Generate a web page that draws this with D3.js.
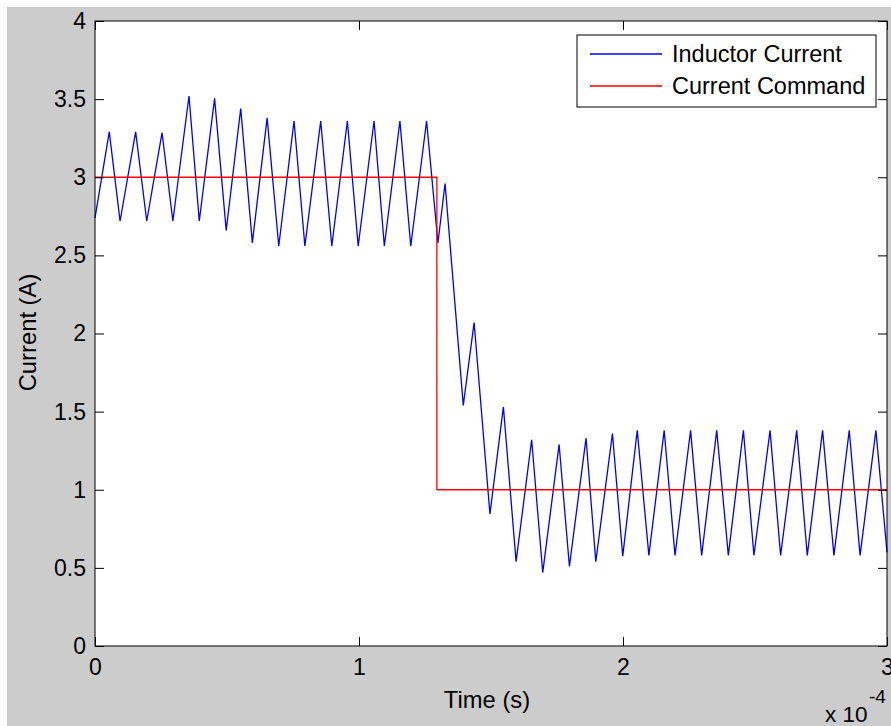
<!DOCTYPE html>
<html>
<head>
<meta charset="utf-8">
<script src="https://cdn.jsdelivr.net/npm/d3@7"></script>
<style>
  html, body { margin: 0; padding: 0; background: #fff; }
  svg { display: block; font-family: "Liberation Sans", Arial, sans-serif; }
</style>
</head>
<body>
<div id="chart"></div>
<script>
// inductor current: peak / valley vertices (time in microseconds, current in A)
var inductorTime = [0, 5.4, 9.5, 15.4, 19.6, 25.4, 29.5, 35.6, 39.5, 45.3, 49.7, 55.2, 59.6, 65.2, 69.6,
  75.4, 79.5, 85.5, 89.7, 95.6, 99.7, 105.7, 109.6, 115.5, 119.6, 125.6, 129.9, 132.6, 139.5, 143.6,
  149.6, 154.7, 159.5, 165.4, 169.6, 175.8, 179.7, 186.0, 189.7, 196.0, 199.9, 205.4, 209.8, 215.6,
  219.7, 225.6, 229.8, 235.5, 239.9, 245.6, 249.6, 255.7, 259.7, 265.8, 269.8, 275.6, 279.9, 285.7,
  289.8, 295.8, 300];
var inductorCurrent = [2.74, 3.29, 2.72, 3.29, 2.72, 3.285, 2.72, 3.52, 2.72, 3.505, 2.66, 3.44, 2.58, 3.38, 2.56,
  3.36, 2.56, 3.36, 2.56, 3.36, 2.56, 3.36, 2.56, 3.36, 2.56, 3.36, 2.58, 2.96, 1.54, 2.07,
  0.845, 1.53, 0.54, 1.32, 0.47, 1.29, 0.51, 1.33, 0.54, 1.36, 0.575, 1.38, 0.58, 1.38,
  0.58, 1.38, 0.58, 1.38, 0.58, 1.38, 0.58, 1.38, 0.58, 1.38, 0.58, 1.38, 0.58, 1.38,
  0.58, 1.38, 0.6];

// current command (step)
var commandTime = [0, 129.5, 129.5, 300];
var commandCurrent = [3, 3, 1, 1];

var xTicks = [0, 100, 200, 300];
var xTickLabels = ["0", "1", "2", "3"];
var yTicks = [0, 0.5, 1, 1.5, 2, 2.5, 3, 3.5, 4];
var yTickLabels = ["0", "0.5", "1", "1.5", "2", "2.5", "3", "3.5", "4"];
var seriesNames = ["Inductor Current", "Current Command"];
var seriesColors = ["#0000ff", "#ff0000"];

var W = 891, H = 726;
var plotL = 95, plotR = 887, plotT = 21, plotB = 646;

var svg = d3.select("#chart").append("svg")
  .attr("width", W).attr("height", H);

svg.append("rect").attr("x", 7).attr("y", 7).attr("width", W - 7).attr("height", H - 7)
  .attr("fill", "#cccccc");
svg.append("rect").attr("x", plotL).attr("y", plotT)
  .attr("width", plotR - plotL).attr("height", plotB - plotT).attr("fill", "#fff");

var x = d3.scaleLinear().domain([0, 300]).range([plotL, plotR]);
var y = d3.scaleLinear().domain([0, 4]).range([plotB, plotT]);

function lineData(ts, vs) {
  return ts.map(function(t, i) { return [t, vs[i]]; });
}
var line = d3.line().x(function(d) { return x(d[0]); }).y(function(d) { return y(d[1]); });

var plot = svg.append("g");
plot.append("path")
  .datum(lineData(inductorTime, inductorCurrent))
  .attr("d", line).attr("fill", "none")
  .attr("stroke", seriesColors[0]).attr("stroke-width", 1.3);
plot.append("path")
  .datum(lineData(commandTime, commandCurrent))
  .attr("d", line).attr("fill", "none")
  .attr("stroke", seriesColors[1]).attr("stroke-width", 1.3);

// axes, ticks pointing inward
var fs = 23;
var xAxis = d3.axisBottom(x).tickValues(xTicks)
  .tickFormat(function(d, i) { return xTickLabels[i]; })
  .tickSizeInner(-9).tickSizeOuter(0).tickPadding(13);
var yAxis = d3.axisLeft(y).tickValues(yTicks)
  .tickFormat(function(d, i) { return yTickLabels[i]; })
  .tickSizeInner(-9).tickSizeOuter(0).tickPadding(9);

svg.append("g").attr("transform", "translate(0," + plotB + ")").call(xAxis);
svg.append("g").attr("transform", "translate(" + plotL + ",0)").call(yAxis);
svg.append("g").attr("transform", "translate(0," + plotT + ")")
  .call(d3.axisTop(x).tickValues(xTicks).tickFormat("").tickSizeInner(-9).tickSizeOuter(0));
svg.append("g").attr("transform", "translate(" + plotR + ",0)")
  .call(d3.axisRight(y).tickValues(yTicks).tickFormat("").tickSizeInner(-9).tickSizeOuter(0));

svg.selectAll(".domain").remove();
svg.selectAll(".tick line").attr("stroke", "#000");
svg.selectAll(".tick text").attr("font-size", fs).attr("fill", "#000")
  .attr("font-family", "'Liberation Sans', Arial, sans-serif");

svg.append("rect").attr("x", plotL).attr("y", plotT)
  .attr("width", plotR - plotL).attr("height", plotB - plotT)
  .attr("fill", "none").attr("stroke", "#000").attr("stroke-width", 1);

// axis labels
svg.append("text").attr("x", 487).attr("y", 708).attr("text-anchor", "middle")
  .attr("font-size", 23.8).text("Time (s)");
svg.append("text").attr("transform", "translate(36,332.5) rotate(-90)")
  .attr("text-anchor", "middle").attr("font-size", 23.8).text("Current (A)");

svg.append("text").attr("x", 825).attr("y", 722).attr("font-size", 22.5).text("x 10");
svg.append("text").attr("x", 869).attr("y", 703).attr("font-size", 19).text("-4");

// legend
var lg = svg.append("g");
lg.append("rect").attr("x", 577).attr("y", 35).attr("width", 299).attr("height", 72)
  .attr("fill", "#fff").attr("stroke", "#000").attr("stroke-width", 1);
var rowsY = [54, 86];
seriesNames.forEach(function(name, i) {
  lg.append("line").attr("x1", 590).attr("x2", 662).attr("y1", rowsY[i]).attr("y2", rowsY[i])
    .attr("stroke", seriesColors[i]).attr("stroke-width", 1.3);
  lg.append("text").attr("x", 672).attr("y", rowsY[i]).attr("dy", "0.36em")
    .attr("font-size", 23.5).text(name);
});
</script>
</body>
</html>
